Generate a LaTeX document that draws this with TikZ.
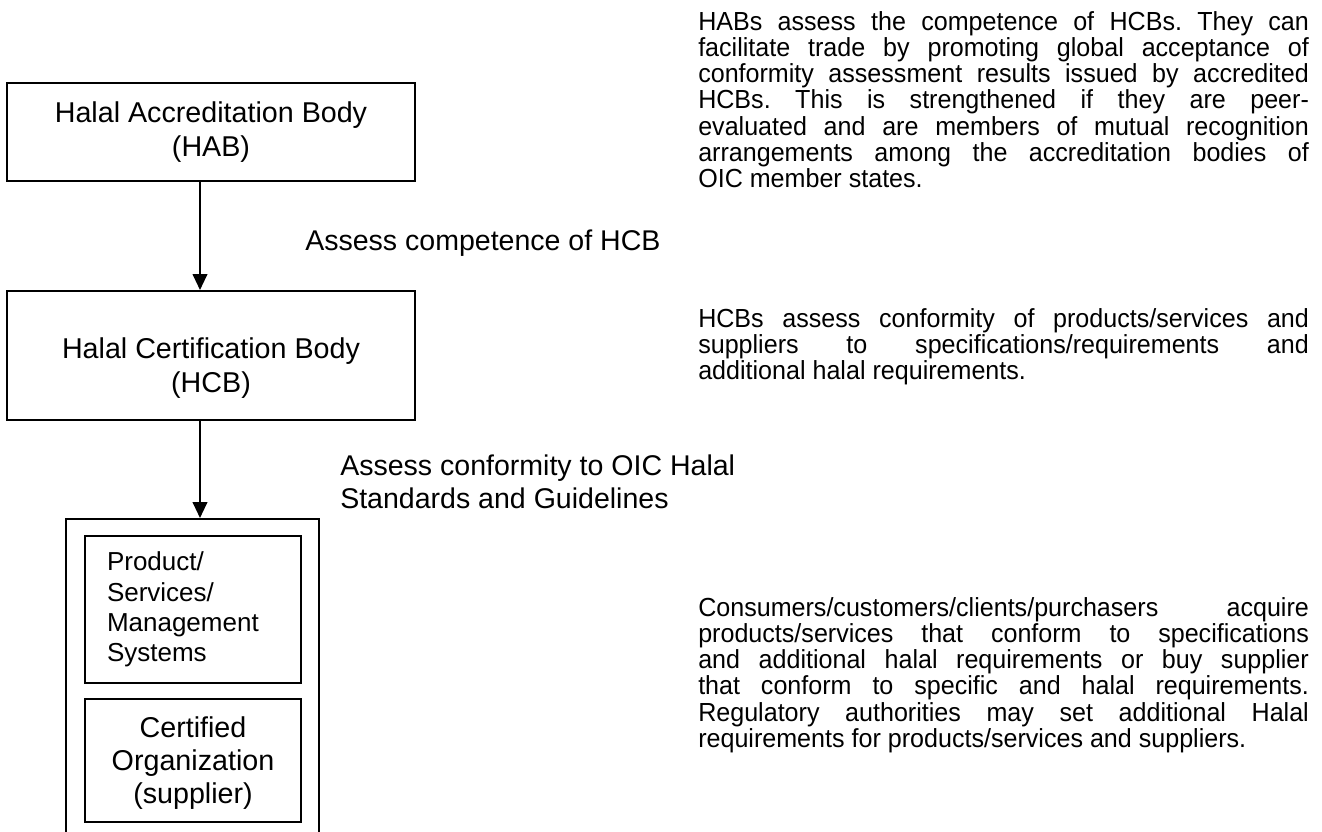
\documentclass[tikz,border=0pt]{standalone}
\usepackage{fontspec}
\setmainfont{Liberation Sans}
\newfontfamily\parafont[FakeStretch=0.96]{Liberation Sans}
\usetikzlibrary{arrows.meta}
\begin{document}
\frenchspacing
\begin{tikzpicture}[x=0.75pt,y=-0.75pt,
  box/.style={draw,line width=1.5pt,inner sep=0pt},
  big/.style={font=\fontsize{21.5}{25}\selectfont,align=center},
  lbl/.style={anchor=base west,inner sep=0pt,align=left,font=\fontsize{21.4}{24.75}\selectfont},
  para/.style={anchor=base west,inner sep=0pt,text width=458pt,align=justify,font=\parafont\fontsize{19.6}{19.7}\selectfont},
  flow/.style={line width=1.5pt,-{Triangle[width=11pt,length=12pt]}}]
\useasboundingbox (0,0) rectangle (1322,832);
\clip (0,0) rectangle (1322,832);
\coordinate (axis) at (200,0);
\node[box,big,minimum width=306pt,minimum height=73.5pt] (hab) at (211,132) {Halal Accreditation Body\\(HAB)};
\node[box,minimum width=306pt,minimum height=96.75pt] (hcb) at (211,355.5) {};
\node[big] (hcbname) at (211,368) {Halal Certification Body\\(HCB)};
\node[box,minimum width=189.75pt,minimum height=256.5pt,anchor=north] (org) at (192.5,518) {};
\node[box,minimum width=162pt,minimum height=110.25pt,text width=129pt,inner xsep=16.5pt,align=left,font=\fontsize{19.5}{22.7}\selectfont] (psm) at (193,609.5) {Product/\\Services/\\Management\\Systems};
\node[box,minimum width=162pt,minimum height=92.25pt] (sup) at (193,760.5) {};
\node[big] (supname) at (193,763) {Certified\\Organization\\(supplier)};
\draw[flow] (hab.south -| axis) -- (hcb.north -| axis);
\draw[flow] (hcb.south -| axis) -- (org.north -| axis);
\node[lbl] (compl) at (305,250) {Assess competence of HCB};
\node[lbl] (confl) at (340,508) {Assess conformity to OIC Halal\\Standards and Guidelines};
\node[para] (habtxt) at (698,30) {HABs assess the competence of HCBs. They can\linebreak facilitate trade by promoting global acceptance of\linebreak conformity assessment results issued by accredited\linebreak HCBs. This is strengthened if they are peer-\linebreak evaluated and are members of mutual recognition\linebreak arrangements among the accreditation bodies of\linebreak OIC member states.};
\node[para] (hcbtxt) at (698,327) {HCBs assess conformity of products/services and\linebreak suppliers to specifications/requirements and\linebreak additional halal requirements.};
\node[para] (custxt) at (698,616) {Consumers/customers/clients/purchasers acquire\linebreak products/services that conform to specifications\linebreak and additional halal requirements or buy supplier\linebreak that conform to specific and halal requirements.\linebreak Regulatory authorities may set additional Halal\linebreak requirements for products/services and suppliers.};
\end{tikzpicture}
\end{document}
